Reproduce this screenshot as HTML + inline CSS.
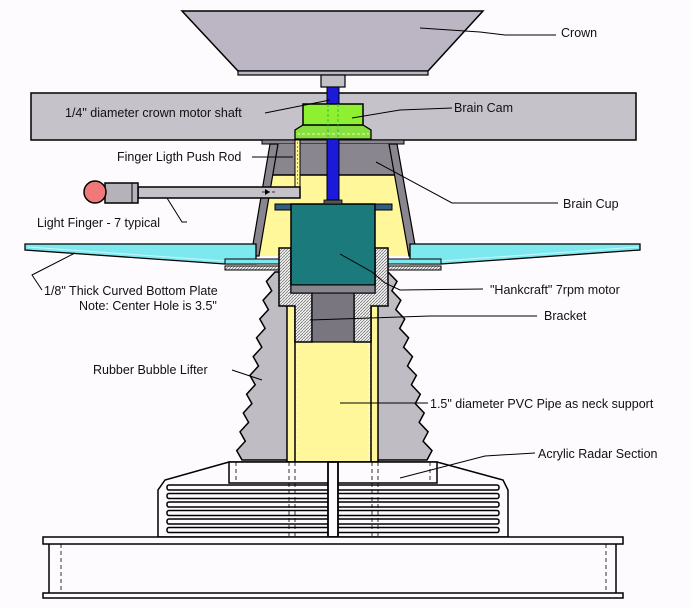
<!DOCTYPE html>
<html><head><meta charset="utf-8"><style>
html,body{margin:0;padding:0;background:#fdfbfd;}
svg{display:block;}
text{font-family:"Liberation Sans",sans-serif;font-size:12.5px;fill:#111;}
</style></head><body>
<svg width="692" height="608" viewBox="0 0 692 608" xmlns="http://www.w3.org/2000/svg">
<defs>
<pattern id="hatch" width="3" height="3" patternUnits="userSpaceOnUse">
<rect width="3" height="3" fill="#f4f4f4"/><path d="M0,3 L3,0" stroke="#777" stroke-width="0.8"/>
</pattern>
</defs>
<rect width="692" height="608" fill="#fdfbfd"/>

<!-- Crown -->
<polygon points="182,11 483,11 428,71 238,71" fill="#bcb5c4" stroke="#000" stroke-width="1.5"/>
<rect x="238" y="71" width="190" height="4" fill="#bcb5c4" stroke="#000" stroke-width="1.2"/>
<rect x="321" y="75" width="24" height="12" fill="#c4c0c8" stroke="#000" stroke-width="1.2"/>

<!-- Rail -->
<rect x="31" y="93" width="605" height="47" fill="#c6c2ca" stroke="#000" stroke-width="1.5"/>

<!-- Brain cup -->
<rect x="262" y="140" width="142" height="4" fill="#8a8690" stroke="#000" stroke-width="1"/>
<polygon points="272,144 395,144 416,256 252,256" fill="#fff79a" stroke="none"/>
<polygon points="276,144 392,144 398,175 270,175" fill="#8a8690"/>
<line x1="270" y1="175" x2="398" y2="175" stroke="#000" stroke-width="1.5"/>
<polygon points="270,144 278,144 259,256 251,256" fill="#8a8690" stroke="#000" stroke-width="1.2"/>
<polygon points="389,144 397,144 417,256 409,256" fill="#8a8690" stroke="#000" stroke-width="1.2"/>
<rect x="226" y="254" width="30" height="5" fill="#8a8690" stroke="#000" stroke-width="1"/>
<rect x="410" y="254" width="30" height="5" fill="#8a8690" stroke="#000" stroke-width="1"/>

<!-- Plate -->
<polygon points="25,244 256,244 256,264 225,264 25,250" fill="#7ee8ef" stroke="#000" stroke-width="1.3"/>
<polygon points="640,244 410,244 410,264 441,264 640,250" fill="#7ee8ef" stroke="#000" stroke-width="1.3"/>
<line x1="28" y1="247" x2="225" y2="261" stroke="#c8f6f8" stroke-width="1"/>
<line x1="638" y1="247" x2="441" y2="261" stroke="#c8f6f8" stroke-width="1"/>
<rect x="225" y="259" width="216" height="5" fill="#7ee8ef" stroke="#000" stroke-width="1"/>
<rect x="225" y="266" width="216" height="4" fill="url(#hatch)" stroke="#000" stroke-width="1"/>

<!-- Bellows -->
<polygon points="275,272 266.4,281.4 271.7,290.8 263.1,300.2 268.4,309.6 259.8,319 265.1,328.4 256.5,337.8 261.8,347.2 253.2,356.6 258.5,366 249.9,375.4 255.2,384.8 246.6,394.2 251.9,403.6 243.3,413 248.6,422.4 240,431.8 245.3,441.2 236.7,450.6 242,460 427,460 432,450.6 423.1,441.2 428.1,431.8 419.2,422.4 424.2,413 415.3,403.6 420.3,394.2 411.4,384.8 416.4,375.4 407.5,366 412.5,356.6 403.6,347.2 408.6,337.8 399.7,328.4 404.7,319 395.8,309.6 400.8,300.2 391.9,290.8 397,281.4 388,272" fill="#c0bcc4" stroke="#000" stroke-width="1.5"/>

<!-- PVC pipe -->
<rect x="287" y="300" width="91" height="162" fill="#fff79a" stroke="#000" stroke-width="1.5"/>
<line x1="295" y1="300" x2="295" y2="462" stroke="#000" stroke-width="1.5"/>
<line x1="371" y1="300" x2="371" y2="462" stroke="#000" stroke-width="1.5"/>
<line x1="297" y1="342" x2="297" y2="462" stroke="#fff" stroke-width="0.8" stroke-dasharray="2,2"/>
<line x1="369" y1="342" x2="369" y2="462" stroke="#fff" stroke-width="0.8" stroke-dasharray="2,2"/>

<!-- Bracket -->
<polygon points="279,248 291,248 291,293 375,293 375,248 388,248 388,306 371,306 371,342 354,342 354,295 312,295 312,342 295,342 295,306 279,306" fill="url(#hatch)" stroke="#000" stroke-width="1.5"/>
<rect x="312" y="293" width="42" height="49" fill="#7a7680" stroke="#000" stroke-width="1.2"/>

<!-- Motor -->
<rect x="275" y="204" width="117" height="6" fill="#2e5f80" stroke="#000" stroke-width="1"/>
<rect x="291" y="204" width="84" height="81" fill="#1a7a7c" stroke="#000" stroke-width="1.5"/>
<rect x="291" y="285" width="84" height="8" fill="#8a8690" stroke="#000" stroke-width="1"/>
<rect x="324" y="200" width="18" height="4" fill="#555" stroke="#000" stroke-width="0.8"/>

<!-- Shaft -->
<rect x="327" y="87" width="12" height="113" fill="#1a1ad8" stroke="#000" stroke-width="1"/>

<!-- Brain cam -->
<polygon points="303,125 363,125 371,130 371,139 295,139 295,130" fill="#88e040" stroke="#000" stroke-width="1.3"/>
<line x1="297" y1="134" x2="369" y2="134" stroke="#e8ff90" stroke-width="1" stroke-dasharray="3,2"/>
<rect x="303" y="104" width="60" height="21" fill="#8ef030" stroke="#000" stroke-width="1.5"/>
<line x1="328" y1="104" x2="328" y2="139" stroke="#2a5" stroke-width="0.8" stroke-dasharray="3,2"/>
<line x1="338" y1="104" x2="338" y2="139" stroke="#2a5" stroke-width="0.8" stroke-dasharray="3,2"/>

<!-- Push rod -->
<rect x="295" y="140" width="5" height="47" fill="#fff79a" stroke="#000" stroke-width="1"/>
<line x1="297.5" y1="142" x2="297.5" y2="186" stroke="#444" stroke-width="0.6" stroke-dasharray="2,2"/>

<!-- Light finger -->
<rect x="138" y="187" width="162" height="11" fill="#c6c2ca" stroke="#000" stroke-width="1.5"/>
<rect x="105" y="183" width="33" height="20" fill="#b6b2ba" stroke="#000" stroke-width="1.5"/>
<line x1="132" y1="183" x2="132" y2="203" stroke="#000" stroke-width="1"/>
<circle cx="95" cy="192" r="11" fill="#f07878" stroke="#000" stroke-width="1.5"/>
<line x1="262" y1="192" x2="275" y2="192" stroke="#000" stroke-width="0.8" stroke-dasharray="3,2"/>
<polygon points="265,189 270,192 265,195" fill="#000"/>

<!-- Base / acrylic radar -->
<polygon points="229,462 165,480 158,490 158,537 508,537 508,490 503,480 437,462" fill="#fdfbfd" stroke="#000" stroke-width="1.5"/>
<rect x="229" y="462" width="208" height="21" fill="#fdfbfd" stroke="#000" stroke-width="1.5"/>
<g fill="#fdfbfd" stroke="#000" stroke-width="1.5">
<rect x="167" y="485" width="332" height="5" rx="2"/>
<rect x="167" y="493.5" width="332" height="5" rx="2"/>
<rect x="167" y="502" width="332" height="5" rx="2"/>
<rect x="167" y="510.5" width="332" height="5" rx="2"/>
<rect x="167" y="519" width="332" height="5" rx="2"/>
<rect x="167" y="527.5" width="332" height="5" rx="2"/>
</g>
<rect x="328" y="462" width="10" height="75" fill="#fdfbfd" stroke="#000" stroke-width="1.8"/>
<g stroke="#000" stroke-width="0.8" stroke-dasharray="4,3">
<line x1="289" y1="462" x2="289" y2="537"/><line x1="295" y1="462" x2="295" y2="537"/>
<line x1="372" y1="462" x2="372" y2="537"/><line x1="378" y1="462" x2="378" y2="537"/>
<line x1="236" y1="462" x2="236" y2="483"/><line x1="430" y1="462" x2="430" y2="483"/>
</g>
<!-- base plate -->
<rect x="43" y="537" width="580" height="7" fill="#fdfbfd" stroke="#000" stroke-width="1.5"/>
<rect x="43" y="593" width="580" height="5" fill="#fdfbfd" stroke="#000" stroke-width="1.5"/>
<line x1="49" y1="544" x2="49" y2="593" stroke="#000" stroke-width="1.5"/>
<line x1="616" y1="544" x2="616" y2="593" stroke="#000" stroke-width="1.5"/>
<line x1="61" y1="544" x2="61" y2="593" stroke="#000" stroke-width="0.8" stroke-dasharray="4,3"/>
<line x1="606" y1="544" x2="606" y2="593" stroke="#000" stroke-width="0.8" stroke-dasharray="4,3"/>

<!-- Leaders -->
<g fill="none" stroke="#000" stroke-width="1">
<polyline points="420,28 480,32 505,35 556,35"/>
<polyline points="265,113 330,100"/>
<polyline points="452,108 400,110 352,118"/>
<polyline points="252,157 293,157"/>
<polyline points="558,203 452,203 376,162"/>
<polyline points="167,198 182,222 187,222"/>
<polyline points="75,253 32,275 42,290"/>
<polyline points="340,254 372,272 385,283 400,290 483,289"/>
<polyline points="537,316 430,316 310,320"/>
<polyline points="232,370 262,380"/>
<polyline points="428,403 340,403"/>
<polyline points="535,453 485,456 400,478"/>
</g>

<!-- Labels -->
<text x="561" y="37">Crown</text>
<text x="65" y="117">1/4" diameter crown motor shaft</text>
<text x="454" y="112">Brain Cam</text>
<text x="117" y="161">Finger Ligth Push Rod</text>
<text x="563" y="208">Brain Cup</text>
<text x="37" y="227">Light Finger - 7 typical</text>
<text x="44" y="295">1/8" Thick Curved Bottom Plate</text>
<text x="79" y="310">Note: Center Hole is 3.5"</text>
<text x="490" y="294">"Hankcraft" 7rpm motor</text>
<text x="544" y="320">Bracket</text>
<text x="93" y="374">Rubber Bubble Lifter</text>
<text x="430" y="408">1.5" diameter PVC Pipe as neck support</text>
<text x="538" y="458">Acrylic Radar Section</text>
</svg>
</body></html>
